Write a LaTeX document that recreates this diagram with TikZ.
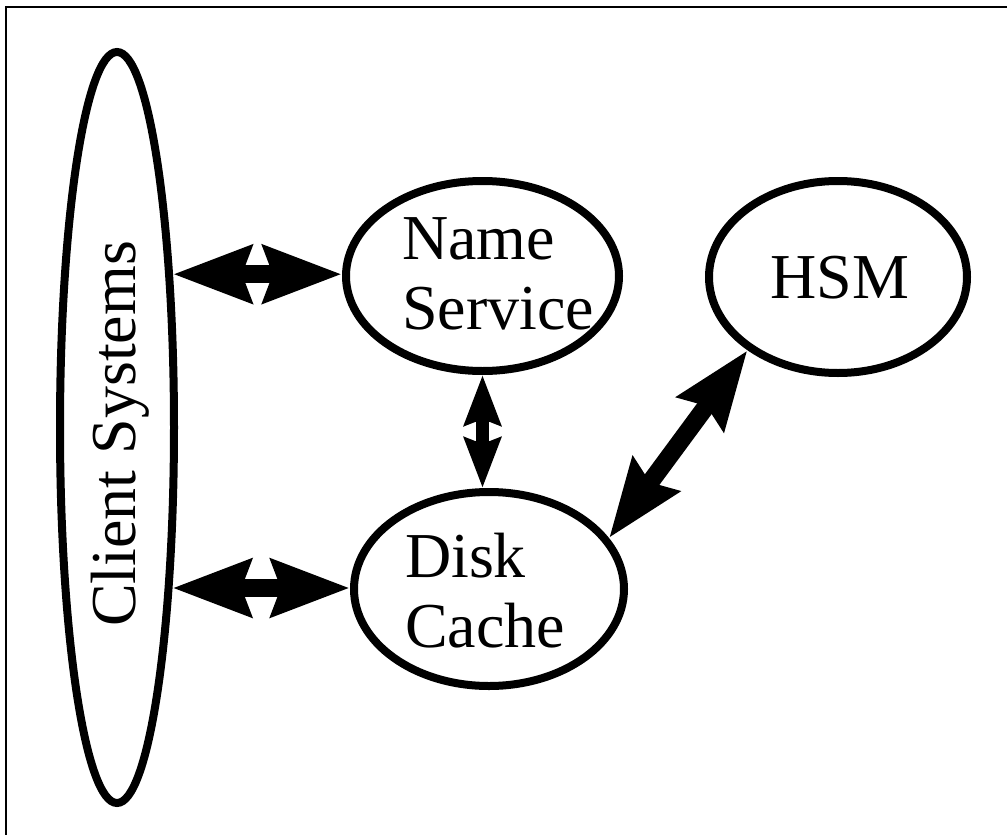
\documentclass[tikz,border=0pt]{standalone}
\usepackage{fontspec}
\setmainfont{Liberation Serif}
\usetikzlibrary{shapes.geometric,arrows.meta}

\begin{document}
\begin{tikzpicture}[x=0.5pt,y=-0.5pt,
                    main node/.style={ellipse,draw,line width=4pt,inner sep=0pt},
                    main text/.style={font=\fontsize{32}{35}\selectfont,align=left,inner sep=0pt},
                    big link/.style={line width=9pt,{Stealth[length=39pt,width=28pt,inset=4.5pt]}-{Stealth[length=39pt,width=28pt,inset=4.5pt]}},
                    small link/.style={line width=6.5pt,{Stealth[length=25pt,width=18pt,inset=3pt]}-{Stealth[length=25pt,width=18pt,inset=3pt]}}]

  \useasboundingbox (0,0) rectangle (1007,835);
  % frame (only top and left edges)
  \draw[line width=1pt] (6,835) -- (6,7) -- (1007,7);

  \node[main node, minimum width=57pt, minimum height=375.5pt] (client) at (117,427.5) {};
  \node[main node, minimum width=136.5pt, minimum height=95pt] (name) at (482.5,276) {};
  \node[main node, minimum width=135pt, minimum height=97pt] (disk) at (489,589) {};
  \node[main node, minimum width=129pt, minimum height=96pt] (hsm) at (838,277) {};

  \node[main text, rotate=90] (clienttext) at (120,434) {Client Systems};
  \node[main text] (nametext) at (498,274) {Name\\Service};
  \node[main text] (disktext) at (485,591) {Disk\\Cache};
  \node[main text] (hsmtext) at (840,278) {HSM};

  \draw[big link] (client.70) -- (client.70 -| name.west);
  \draw[big link] (client.-71) -- (client.-71 -| disk.west);
  \draw[small link] (name.south) -- (name.south |- disk.north);
  \draw[big link] (disk.23) -- (hsm.219);
\end{tikzpicture}
\end{document}
